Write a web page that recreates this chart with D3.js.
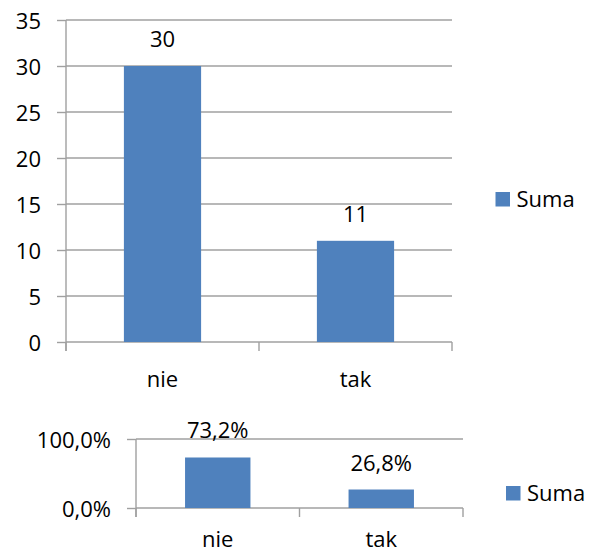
<!DOCTYPE html>
<html>
<head>
<meta charset="utf-8">
<script src="https://cdn.jsdelivr.net/npm/d3@7"></script>
<style>
  html, body { margin: 0; padding: 0; background: #fff; }
  svg { display: block; }
  text { font-family: "Open Sans", "Lato", sans-serif; fill: #000; }
</style>
</head>
<body>
<svg id="chart" width="589" height="553"></svg>
<script>
// Answers "nie" / "tak": counts and percentage shares
const categories = ["nie", "tak"];
const counts = [30, 11];
const shares = [73.2, 26.8];
const countTicks = [0, 5, 10, 15, 20, 25, 30, 35];
const shareTicks = [0, 100];
const seriesName = "Suma";

const BAR = "#4F81BD";
const GRID = "#a0a0a0";
const FONT = 22;

const svg = d3.select("#chart");
const pctFmt = v => d3.format(".1f")(v).replace(".", ",") + "%";

function drawPanel(cfg) {
  const { left, right, top, bottom, values, ticks, max, tickFmt, labelFmt,
          catBaseline, legend } = cfg;
  const g = svg.append("g");

  const x = d3.scaleBand().domain(categories).range([left, right])
    .paddingInner(0.6).paddingOuter(0.3);
  const y = d3.scaleLinear().domain([0, max]).range([bottom, top]);

  // horizontal gridlines
  g.append("g").selectAll("line").data(ticks).join("line")
    .attr("x1", left).attr("x2", right)
    .attr("y1", d => y(d)).attr("y2", d => y(d))
    .attr("stroke", GRID).attr("stroke-width", 1.4);

  // value axis with outward tick marks
  const yAxis = g.append("g").attr("transform", `translate(${left},0)`)
    .call(d3.axisLeft(y).tickValues(ticks).tickSize(9).tickPadding(16).tickFormat(tickFmt));
  yAxis.select(".domain").remove();
  yAxis.selectAll(".tick line").attr("stroke", GRID).attr("stroke-width", 1.4);
  yAxis.selectAll(".tick text").attr("font-size", FONT).attr("font-family", null)
    .attr("dy", "0.4em");
  yAxis.append("line").attr("x1", 0).attr("x2", 0)
    .attr("y1", y(max)).attr("y2", y(0) + 9)
    .attr("stroke", GRID).attr("stroke-width", 1.4);

  // category boundary ticks
  const bounds = d3.range(categories.length + 1).map(i => left + i * x.step());
  g.append("g").selectAll("line").data(bounds).join("line")
    .attr("x1", d => d).attr("x2", d => d)
    .attr("y1", y(0)).attr("y2", y(0) + 9)
    .attr("stroke", GRID).attr("stroke-width", 1.4);

  // bars
  g.append("g").selectAll("rect").data(values).join("rect")
    .attr("x", (d, i) => x(categories[i]))
    .attr("width", x.bandwidth())
    .attr("y", d => y(d))
    .attr("height", d => y(0) - y(d))
    .attr("fill", BAR);

  // value labels
  g.append("g").selectAll("text").data(values).join("text")
    .attr("x", (d, i) => x(categories[i]) + x.bandwidth() / 2)
    .attr("y", d => y(d) - 19)
    .attr("text-anchor", "middle")
    .attr("font-size", FONT)
    .text(labelFmt);

  // category labels
  g.append("g").selectAll("text").data(categories).join("text")
    .attr("x", d => x(d) + x.bandwidth() / 2)
    .attr("y", catBaseline)
    .attr("text-anchor", "middle")
    .attr("font-size", FONT)
    .text(d => d);

  // legend
  g.append("rect").attr("x", legend.x).attr("y", legend.y)
    .attr("width", 14.5).attr("height", 14.5).attr("fill", BAR);
  g.append("text").attr("x", legend.x + 21).attr("y", legend.y + 14.5)
    .attr("font-size", FONT).text(seriesName);
}

drawPanel({
  left: 66, right: 452, top: 20, bottom: 342,
  values: counts, ticks: countTicks, max: 35,
  tickFmt: d3.format("d"), labelFmt: d => String(d),
  catBaseline: 387,
  legend: { x: 495.5, y: 192 }
});

drawPanel({
  left: 136, right: 463, top: 439, bottom: 508,
  values: shares, ticks: shareTicks, max: 100,
  tickFmt: pctFmt, labelFmt: pctFmt,
  catBaseline: 547,
  legend: { x: 506, y: 486 }
});
</script>
</body>
</html>
